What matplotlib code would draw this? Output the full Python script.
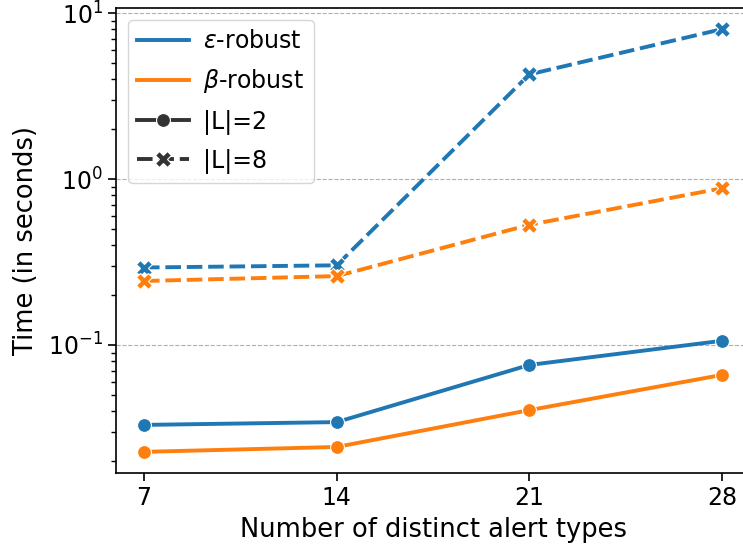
import matplotlib.pyplot as plt
from matplotlib.lines import Line2D

# number of distinct alert types
n_types = [7, 14, 21, 28]

# runtime in seconds, |L| = 2
eps_l2 = [0.033, 0.0343, 0.0758, 0.106]
beta_l2 = [0.0227, 0.0243, 0.0405, 0.066]

# runtime in seconds, |L| = 8
eps_l8 = [0.293, 0.302, 4.27, 8.0]
beta_l8 = [0.243, 0.26, 0.53, 0.88]

BLUE = "#1f77b4"
ORANGE = "#ff7f0e"
LW = 2.8
DASH = (4, 1.5)
MS_O = 10
MS_X = 11

W, H = 743, 550
fig = plt.figure(figsize=(W / 100, H / 100), dpi=100)
# the original is cropped on the right, so the axes run past the edge
ax_left, ax_right = 116, 780
ax = fig.add_axes([ax_left / W, 77 / H, (ax_right - ax_left) / W, 465 / H])

ax.plot(n_types, eps_l2, color=BLUE, lw=LW, marker="o", ms=MS_O,
        mec="white", mew=0.8)
ax.plot(n_types, beta_l2, color=ORANGE, lw=LW, marker="o", ms=MS_O,
        mec="white", mew=0.8)
ax.plot(n_types, eps_l8, color=BLUE, lw=LW, marker="X", ms=MS_X,
        mec="white", mew=0.8, dashes=DASH)
ax.plot(n_types, beta_l8, color=ORANGE, lw=LW, marker="X", ms=MS_X,
        mec="white", mew=0.8, dashes=DASH)

ax.set_yscale("log")
ax.set_xticks(n_types)
# keep 7 and 28 where they sit in the original (x = 144 px and 722 px)
px_per_unit = (722 - 144) / (28 - 7)
ax.set_xlim(7 - (144 - ax_left) / px_per_unit,
            28 + (ax_right - 722) / px_per_unit)
ax.grid(axis="y", which="major", ls="--", color="#b0b0b0", lw=0.8)
ax.set_axisbelow(True)

ax.tick_params(axis="both", which="major", labelsize=17, length=6, width=1.2)
ax.tick_params(axis="y", which="minor", length=3.5, width=1.0)
for sp in ax.spines.values():
    sp.set_linewidth(1.2)

ax.set_xlabel("Number of distinct alert types", fontsize=18.5, labelpad=6)
ax.set_ylabel("Time (in seconds)", fontsize=18.5, labelpad=6)
# centre the x label where the original has it (axes would end at ~751 px)
ax.xaxis.set_label_coords((433 - ax_left) / (ax_right - ax_left), -0.095)

dark = "#333333"
handles = [
    Line2D([], [], color=BLUE, lw=LW),
    Line2D([], [], color=ORANGE, lw=LW),
    Line2D([], [], color=dark, lw=LW, marker="o", ms=MS_O, mec="white", mew=0.8),
    Line2D([], [], color=dark, lw=LW, marker="X", ms=MS_X, mec="white", mew=0.8,
           dashes=DASH),
]
labels = [r"$\varepsilon$-robust", r"$\beta$-robust", "|L|=2", "|L|=8"]
ax.legend(handles, labels, loc="upper left", fontsize=17, frameon=True,
          handlelength=2.2, handletextpad=0.6, labelspacing=0.6)

fig.savefig("out.png", dpi=100)
